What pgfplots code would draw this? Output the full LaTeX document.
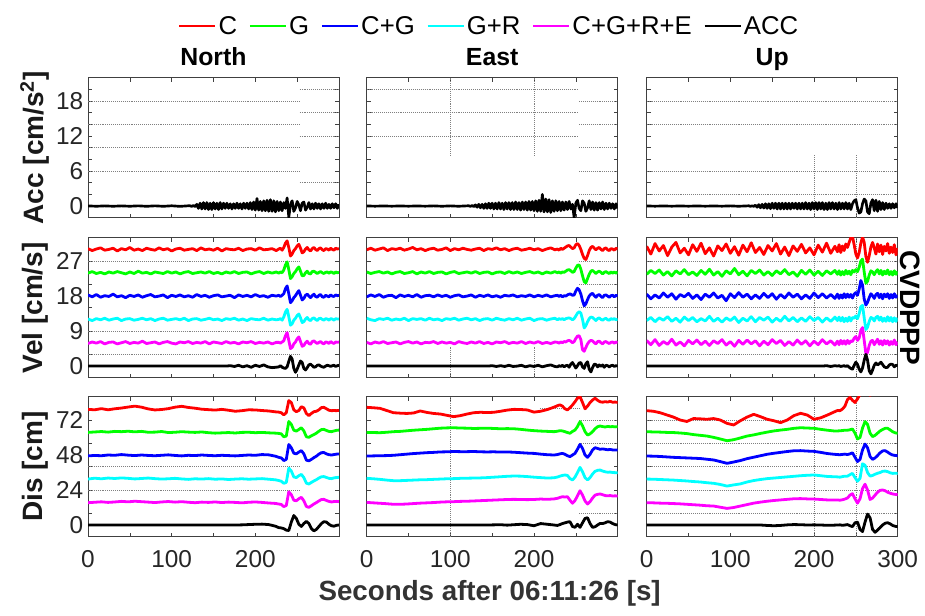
\documentclass[border=0pt]{standalone}
\usepackage{fontspec}
\setmainfont{Liberation Sans}
\usepackage{pgfplots}
\usepackage{pgfplotstable}
\pgfplotsset{compat=1.18}

\definecolor{cR}{rgb}{1,0,0}
\definecolor{cG}{rgb}{0,1,0}
\definecolor{cB}{rgb}{0,0,1}
\definecolor{cC}{rgb}{0,1,1}
\definecolor{cM}{rgb}{1,0,1}

\newcommand\tickfont{\fontsize{18.3}{20}\selectfont}
\newcommand\titlefont{\fontsize{18.6}{20}\selectfont\bfseries}
\newcommand\labfont{\fontsize{21}{23}\selectfont\bfseries}
\newcommand\xlabfont{\fontsize{20.8}{23}\selectfont\bfseries}
\newcommand\legfont{\fontsize{19.3}{21}\selectfont}

% acceleration (ACC only)
\pgfplotstableread{
t n e u
0 0.03 0.02 0.02
10 -0.03 -0.02 -0.02
20 0.03 0.02 0.02
30 -0.03 -0.02 -0.02
40 0.03 0.02 0.02
50 -0.03 -0.02 -0.02
60 0.04 0.02 0.02
70 -0.04 -0.02 -0.02
80 0.04 0.03 0.02
90 -0.04 -0.03 -0.02
100 0.05 0.03 0.03
110 -0.05 -0.03 -0.03
120 0.05 0.04 0.03
122 0.05 0.05 0.05
124 -0.05 -0.05 -0.05
126 0.1 0.1 0.05
128 -0.1 -0.1 -0.05
130 0.3 0.2 0.15
132 -0.4 -0.2 -0.2
134 0.5 0.3 0.25
136 -0.5 -0.3 -0.3
138 0.6 0.3 0.3
140 -0.5 -0.4 -0.35
142 0.6 0.4 0.4
144 -0.6 -0.4 -0.4
146 0.5 0.5 0.4
148 -0.6 -0.4 -0.45
150 0.6 0.5 0.5
152 -0.5 -0.5 -0.4
154 0.5 0.5 0.5
156 -0.6 -0.5 -0.5
158 0.6 0.6 0.5
160 -0.5 -0.5 -0.5
162 0.5 0.5 0.5
164 -0.4 -0.6 -0.5
166 0.5 0.6 0.5
168 -0.4 -0.5 -0.5
170 0.4 0.6 0.5
172 -0.5 -0.6 -0.5
174 0.4 0.6 0.5
176 -0.4 -0.6 -0.4
178 0.5 0.7 0.5
180 -0.4 -0.6 -0.5
182 0.4 0.6 0.5
184 -0.5 -0.7 -0.5
186 0.5 0.7 0.5
188 -0.4 -0.6 -0.5
190 0.5 0.7 0.6
192 -0.5 -0.7 -0.5
194 0.6 0.8 0.5
196 -0.6 -0.7 -0.6
198 0.7 0.8 0.6
200 -0.7 -0.8 -0.5
202 1.3 0.9 0.6
204 -0.7 -0.9 -0.6
206 0.8 1.0 0.6
208 -0.8 -0.9 -0.5
210 0.9 2.0 0.6
212 -0.8 -1.0 -0.6
214 1.0 1.2 0.5
216 -0.9 -1.0 -0.6
218 1.1 1.1 0.6
220 -0.9 -1.1 -0.5
222 0.9 0.9 0.6
224 -1.0 -0.9 -0.5
226 0.8 0.9 0.5
228 -0.8 -0.8 -0.6
230 0.7 0.8 0.6
232 -0.8 -0.8 -0.5
234 0.6 0.7 0.5
236 -0.4 -0.7 -0.5
238 1.4 0.7 0.6
240 -1.9 -0.6 -0.5
242 0.3 0.8 0.5
244 0.9 -0.5 -0.6
246 -0.9 0.3 0.4
248 -0.3 -2.0 0.9
250 0.8 0.5 1.1
252 0.2 1.0 -0.3
254 -0.8 -0.4 -1.2
256 0.5 -0.8 -1.0
258 0.7 0.9 0.4
260 -0.7 0.5 1.2
262 -0.2 -0.9 0.9
264 0.6 -0.3 -1.0
266 -0.5 0.9 -1.3
268 0.4 -0.6 0.5
270 -0.5 0.7 1.1
272 0.5 -0.7 -0.8
274 -0.4 0.6 1.0
276 0.4 -0.7 -0.9
278 -0.5 0.6 0.8
280 0.4 -0.5 -0.6
282 -0.4 0.7 0.6
284 0.5 -0.6 -0.6
286 -0.4 0.5 0.5
288 0.3 -0.5 -0.4
290 -0.4 0.5 0.4
292 0.4 -0.4 -0.4
294 -0.3 0.4 0.4
296 0.4 -0.5 -0.3
298 -0.4 0.4 0.4
300 0.3 -0.4 -0.3
}\acc

% velocity, North (deviation from each offset)
\pgfplotstableread{
t c g cg gr all acc
0 0.2 -0.1 0.3 0.1 -0.2 0
5 -0.3 0.3 -0.2 -0.3 0.2 0
10 0.1 -0.2 0.4 0.2 -0.1 0
15 0.4 0.1 -0.3 -0.1 0.3 0
20 -0.2 -0.3 0.1 0.3 -0.3 0
25 0.0 0.2 -0.1 -0.2 0.1 0
30 0.3 -0.1 0.5 0.1 0.2 0
35 -0.4 0.3 -0.2 0.3 -0.3 0
40 0.2 0.0 0.1 -0.3 0.0 0
45 -0.1 -0.3 -0.4 0.1 0.3 0
50 0.5 0.2 0.2 0.2 -0.2 0
55 -0.2 -0.2 -0.1 -0.2 0.1 0
60 0.1 0.4 0.3 0.0 -0.1 0
65 -0.3 -0.1 -0.3 0.3 0.4 0
70 0.3 0.1 0.1 -0.1 -0.2 0
75 0.0 -0.3 0.4 0.2 0.0 0
80 -0.2 0.2 -0.2 -0.3 0.2 0
85 0.4 0.0 0.0 0.1 -0.3 0
90 -0.1 -0.2 0.3 0.3 0.1 0
95 0.2 0.3 -0.4 -0.2 0.3 0
100 -0.4 -0.1 0.2 0.0 -0.1 0
105 0.1 0.2 -0.1 0.2 -0.3 0
110 0.3 -0.3 0.3 -0.1 0.2 0
115 -0.2 0.1 -0.2 0.3 0.0 0
120 0.0 0.3 0.1 -0.3 0.3 0
125 0.2 -0.2 -0.3 0.1 -0.2 0
130 -0.3 0.0 0.4 0.2 0.1 0
135 0.4 0.2 -0.1 -0.2 -0.1 0
140 -0.1 -0.1 0.2 0.0 0.3 0
145 0.1 0.3 -0.3 0.3 -0.3 0
150 -0.2 -0.2 0.1 -0.1 0.2 0
155 0.3 0.1 0.3 0.1 0.0 0
160 -0.4 -0.3 -0.2 -0.3 -0.2 0
165 0.2 0.2 0.0 0.2 0.3 0
170 0.0 -0.1 0.2 0.0 -0.1 0.1
175 -0.1 0.3 -0.4 0.3 0.1 -0.1
180 0.3 -0.2 0.3 -0.2 -0.3 0.2
185 -0.3 0.1 -0.1 0.1 0.2 -0.2
190 0.1 0.2 0.2 -0.3 0.0 0.1
195 0.2 -0.3 -0.2 0.2 0.3 -0.3
200 -0.2 0.1 0.4 0.0 -0.2 0.2
205 0.4 0.3 -0.1 -0.1 0.1 -0.1
210 -0.1 -0.2 0.1 0.3 -0.1 0.3
215 0.0 0.2 -0.3 -0.2 0.2 -0.2
220 0.2 -0.1 0.2 0.1 -0.3 -0.4
225 -0.3 0.2 0.0 -0.1 0.1 -0.3
228 0.1 -0.1 0.2 0.0 0.1 -0.2
230 0.3 0.2 -0.1 0.2 -0.1 0.1
232 -0.2 0.0 0.2 -0.2 0.2 -0.3
234 0.5 0.7 0.6 0.6 0.5 -0.5
236 1.6 2.0 1.9 1.9 1.8 -0.6
238 2.2 2.8 2.6 2.6 2.6 -0.2
240 0.5 0.8 0.6 0.7 0.6 1.2
242 -1.7 -1.5 -1.7 -1.5 -1.5 2.5
244 -1.2 -1.0 -1.2 -1.1 -1.2 1.8
246 -0.3 -0.2 -0.4 -0.2 -0.3 -0.6
248 0.2 0.3 0.1 0.3 0.2 -1.6
250 0.9 1.0 0.8 1.0 1.0 -0.8
252 1.3 1.5 1.4 1.4 1.5 0.3
254 0.3 0.4 0.2 0.4 0.3 1.3
256 -0.9 -0.8 -1.0 -0.8 -0.9 0.9
258 -0.6 -0.7 -0.6 -0.6 -0.7 -0.6
260 0.1 0.0 0.2 0.1 0.0 -1.0
262 0.5 0.4 0.5 0.5 0.4 -0.4
264 -0.1 -0.2 0.0 -0.1 -0.2 0.3
266 -0.4 -0.3 -0.4 -0.3 -0.4 0.5
268 0.2 0.3 0.1 0.2 0.3 0.1
270 0.5 0.4 0.5 0.4 0.5 -0.3
272 0.0 0.1 -0.1 0.0 0.1 -0.2
274 -0.3 -0.2 -0.3 -0.3 -0.2 0.2
276 0.2 0.1 0.2 0.2 0.1 0.3
278 0.4 0.3 0.4 0.3 0.3 0.0
280 -0.1 0.0 -0.2 0.0 -0.1 -0.2
282 -0.3 -0.2 -0.3 -0.2 -0.3 -0.3
284 0.2 0.1 0.2 0.2 0.2 0.0
286 0.1 0.2 0.0 0.1 0.1 0.2
288 -0.2 -0.1 -0.2 -0.2 -0.2 0.1
290 0.3 0.2 0.3 0.2 0.3 -0.1
292 0.0 0.1 0.0 0.1 0.0 0.1
294 -0.2 -0.2 -0.1 -0.2 -0.2 0.2
296 0.3 0.2 0.3 0.2 0.2 -0.1
298 0.1 0.0 0.1 0.1 0.1 0.1
300 0.2 0.1 0.2 0.1 0.2 0.2
}\velN

% velocity, East
\pgfplotstableread{
t c g cg gr all acc
0 -0.1 0.2 -0.2 0.3 0.1 0
5 0.3 -0.2 0.3 -0.1 -0.3 0
10 -0.2 0.1 -0.1 -0.3 0.2 0
15 0.1 0.3 0.4 0.2 -0.1 0
20 0.4 -0.1 -0.3 0.0 0.3 0
25 -0.3 0.2 0.1 0.3 -0.2 0
30 0.2 -0.3 0.2 -0.2 0.0 0
35 0.0 0.1 -0.4 0.1 0.2 0
40 0.3 0.3 0.3 -0.1 -0.3 0
45 -0.2 -0.2 -0.1 0.3 0.1 0
50 0.1 0.0 0.2 -0.3 0.3 0
55 0.5 0.3 -0.2 0.2 -0.1 0
60 -0.1 -0.3 0.4 0.0 0.2 0
65 0.2 0.2 -0.3 0.2 -0.3 0
70 -0.3 -0.1 0.1 -0.2 0.1 0
75 0.1 0.3 0.2 0.3 0.0 0
80 0.3 -0.2 -0.2 -0.1 0.3 0
85 -0.2 0.1 0.3 0.1 -0.2 0
90 0.0 0.2 -0.1 -0.3 0.2 0
95 0.4 -0.3 0.2 0.2 -0.1 0
100 -0.3 0.1 -0.3 0.0 0.1 0
105 0.2 0.3 0.1 0.3 -0.3 0
110 -0.1 -0.2 0.3 -0.2 0.3 0
115 0.3 0.0 -0.2 0.1 0.0 0
120 0.0 0.2 0.0 0.3 -0.2 0
125 -0.2 -0.1 0.3 -0.1 0.2 0
130 0.1 0.3 -0.3 0.2 -0.1 0
135 0.3 -0.2 0.2 -0.3 0.3 0
140 -0.3 0.1 -0.1 0.1 -0.2 0
145 0.2 0.2 0.3 0.2 0.1 0
150 0.0 -0.3 -0.2 -0.2 -0.3 0.1
155 0.4 0.1 0.1 0.3 0.2 -0.1
160 -0.1 0.2 -0.3 0.0 0.0 0.1
165 0.2 -0.2 0.2 -0.2 0.3 -0.1
170 -0.3 0.3 0.0 0.2 -0.2 0.2
175 0.1 -0.1 0.3 -0.1 0.1 -0.1
180 0.3 0.2 -0.2 0.3 -0.1 0.0
185 -0.2 -0.2 0.1 -0.2 0.3 0.2
190 0.0 0.1 -0.1 0.1 -0.2 -0.2
195 0.3 0.3 0.3 0.3 0.2 0.1
200 -0.1 -0.1 -0.2 -0.3 -0.1 -0.1
205 0.2 0.2 0.2 0.1 0.3 0.2
210 -0.3 -0.3 -0.1 0.2 -0.2 -0.2
215 0.1 0.2 0.3 -0.2 0.1 0.1
220 0.4 -0.1 -0.2 0.1 -0.2 0.3
225 -0.1 0.3 0.1 0.3 0.2 -0.1
228 0.1 0.0 0.2 -0.1 0.1 -0.2
230 -0.2 0.2 -0.1 0.2 -0.1 0.1
232 0.3 -0.1 0.2 0.0 0.2 -0.1
234 0.0 0.2 -0.2 0.2 0.0 0.2
236 0.3 0.1 0.1 -0.1 0.3 -0.2
238 0.6 0.4 0.0 0.2 0.2 0.1
240 0.9 0.7 0.3 0.3 0.5 0.2
242 1.0 0.8 0.5 0.4 0.6 -0.3
244 0.6 0.5 0.5 0.2 0.4 0.5
246 0.2 0.1 0.2 -0.1 0.0 0.9
248 0.4 0.3 0.3 0.2 0.3 0.2
250 1.2 1.2 1.3 0.9 1.1 -0.5
252 1.5 1.9 2.0 1.6 1.7 0.1
254 1.0 2.0 1.6 2.0 1.8 0.8
256 0.0 0.9 0.5 1.6 0.8 0.9
258 -1.3 -0.8 -1.2 0.0 -1.8 -0.2
260 -2.3 -2.3 -2.5 -2.2 -2.2 -0.6
262 -2.6 -2.6 -2.0 -1.6 -1.2 0.6
264 -1.6 -1.5 -0.9 -0.6 -0.3 1.1
266 -0.3 -0.4 0.0 0.2 0.3 -0.8
268 0.5 0.4 0.5 0.6 0.6 -1.5
270 0.8 0.6 0.7 0.5 0.5 -0.4
272 0.3 0.2 0.1 0.1 0.0 0.5
274 -0.1 -0.2 -0.3 -0.3 -0.3 0.4
276 0.3 0.2 0.2 0.2 0.3 -0.2
278 0.5 0.4 0.4 0.4 0.4 0.3
280 0.0 0.1 -0.1 0.0 0.0 -0.1
282 -0.3 -0.3 -0.4 -0.2 -0.3 0.3
284 0.2 0.1 0.2 0.1 0.2 -0.3
286 0.4 0.3 0.3 0.3 0.3 0.2
288 -0.1 0.0 0.0 -0.1 0.0 0.1
290 -0.3 -0.2 -0.3 -0.2 -0.2 -0.2
292 0.2 0.2 0.1 0.2 0.1 0.1
294 0.1 -0.1 0.2 0.0 0.2 0.2
296 -0.2 0.2 -0.2 0.2 -0.1 -0.1
298 0.3 -0.1 0.2 -0.1 0.2 0.1
300 0.1 0.2 0.0 0.1 0.0 0.0
}\velE

% velocity, Up
\pgfplotstableread{
t c g cg gr all acc
0 0.8 -0.4 0.5 -0.3 0.6 0
5 -1.2 0.6 -0.7 0.5 -0.5 0
10 1.5 -0.2 0.3 -0.6 0.8 0
15 -0.4 0.7 -0.5 0.4 -0.7 0
20 1.0 -0.6 0.8 -0.2 0.3 0
25 -1.6 0.3 -0.3 0.7 -0.4 0
30 0.6 -0.8 0.6 -0.5 0.9 0
35 1.8 0.5 -0.8 0.3 -0.6 0
40 -0.9 -0.3 0.4 -0.7 0.2 0
45 0.3 0.8 -0.2 0.6 -0.8 0
50 -1.4 -0.5 0.7 -0.3 0.6 0
55 1.2 0.2 -0.6 0.5 -0.3 0
60 -0.5 -0.7 0.3 -0.6 0.7 0
65 1.6 0.6 -0.9 0.2 -0.5 0
70 -1.1 -0.4 0.5 -0.4 0.4 0
75 0.4 0.9 -0.3 0.8 -0.7 0
80 -1.7 -0.6 0.8 -0.5 0.5 0
85 0.9 0.3 -0.5 0.3 -0.2 0
90 -0.3 -0.9 0.2 -0.7 0.8 0
95 1.4 0.5 -1.2 0.4 -0.6 0
100 -1.0 -0.3 0.6 -0.3 0.3 0
105 0.7 1.1 -0.4 0.6 -0.9 0
110 -1.5 -0.5 0.9 -0.8 0.6 0
115 1.1 0.4 -0.3 0.3 -0.4 0
120 -0.6 -0.8 0.5 -0.4 0.7 0
125 1.7 0.6 -0.7 0.7 -0.3 0
130 -0.8 -0.2 0.3 -0.6 0.5 0
135 0.5 0.7 -0.6 0.5 -0.8 0
140 -1.3 -0.6 0.7 -0.2 0.4 0
145 1.0 0.3 -0.4 0.6 -0.5 0
150 -0.4 -0.7 0.6 -0.7 0.8 0
155 1.5 0.5 -0.8 0.3 -0.2 0
160 -1.2 -0.3 0.4 -0.5 0.6 0
165 0.6 0.8 -0.5 0.8 -0.7 0
170 -1.6 -0.5 0.8 -0.4 0.3 0
175 0.9 0.2 -0.3 0.5 -0.6 0
180 -0.5 -0.9 0.5 -0.6 0.7 0
185 1.3 0.6 -0.7 0.4 -0.4 0
190 -0.9 -0.4 0.3 -0.5 0.5 0
195 0.4 0.7 -0.6 0.7 -0.8 0
200 -1.4 -0.6 0.8 -0.3 0.4 0
205 1.1 0.4 -0.4 0.5 -0.5 0
210 -0.7 -0.7 0.6 -0.7 0.8 0
215 1.6 0.5 -0.5 0.4 -0.3 0.1
220 -1.0 -0.3 0.4 -0.5 0.5 -0.1
225 0.8 0.6 -0.6 0.6 -0.6 0.1
228 -0.6 -0.4 0.5 -0.3 0.4 0.0
230 1.2 0.5 -0.6 0.6 -0.5 0.1
232 -0.8 -0.6 0.3 -0.4 0.6 -0.1
234 0.9 0.3 -0.5 0.5 -0.3 0.0
236 -0.3 -0.5 0.6 -0.6 0.5 0.1
238 1.4 0.6 -0.4 0.3 -0.4 -0.1
240 0.5 -0.3 0.5 -0.5 0.6 0.1
242 1.8 0.4 -0.3 0.6 -0.2 -0.3
244 3.0 -0.5 0.4 -0.4 0.5 -0.6
246 3.3 0.6 -0.5 0.5 0.3 -0.8
248 1.2 0.2 0.5 0.3 1.2 0.2
250 -1.2 0.8 0.9 0.9 1.6 1.0
252 -2.2 0.3 0.2 0.2 0.6 0.4
254 -0.8 1.4 1.8 1.5 1.2 -0.8
256 1.6 3.0 4.0 3.3 3.2 -1.5
258 3.2 3.5 2.8 3.6 3.9 -0.5
260 1.8 0.2 -0.8 0.4 0.6 1.5
262 -1.8 -2.7 -2.3 -2.6 -2.8 3.0
264 -3.3 -2.2 -1.6 -2.0 -2.5 1.5
266 -1.6 -0.6 -0.4 -0.5 -0.7 -1.2
268 0.6 0.5 0.6 0.5 0.4 -2.0
270 1.8 0.2 0.1 0.3 0.6 -1.0
272 0.4 -0.5 -0.6 -0.4 -0.5 0.2
274 -1.2 0.3 0.4 0.5 0.2 0.8
276 1.4 0.8 0.7 0.8 0.9 0.3
278 -0.6 -0.3 -0.4 -0.2 -0.4 0.6
280 1.1 0.6 0.5 0.6 0.5 1.0
282 -1.3 -0.6 -0.7 -0.5 -0.6 0.4
284 0.8 0.4 0.5 0.3 0.6 -0.2
286 -0.4 -0.3 -0.2 -0.5 -0.3 -0.4
288 1.5 0.7 0.6 0.7 0.5 -0.3
290 -1.0 -0.5 -0.6 -0.4 -0.6 0.3
292 0.6 0.3 0.4 0.5 0.3 0.5
294 -0.8 -0.6 -0.5 -0.6 -0.4 0.4
296 1.2 0.5 0.6 0.4 0.7 -0.2
298 -1.4 -0.4 -0.3 -0.5 -0.5 0.2
300 0.3 0.3 0.2 0.4 0.2 0.1
}\velU

% displacement, North
\pgfplotstableread{
t c g cg gr all acc
0 -0.7 -0.5 -0.6 -0.5 -0.7 0
8 -1.0 -0.2 -0.3 0.1 -0.4 0
16 -0.2 0.1 -0.5 -0.3 -0.1 0
24 -1.0 -0.3 0.0 0.2 -0.5 0
32 -0.3 0.2 -0.2 -0.1 -0.2 0
40 0.2 0.0 0.3 0.3 0.2 0
48 0.9 0.3 -0.1 0.0 -0.1 0
56 1.5 -0.1 -0.4 -0.4 0.3 0
64 0.8 0.2 0.0 -0.1 0.0 0
72 -0.4 -0.4 -0.3 0.2 -0.3 0
80 -1.1 -0.3 -0.5 -0.2 -0.6 0
88 -0.8 0.1 -0.2 -0.5 -0.2 0
96 -0.2 -0.6 0.1 -0.3 0.1 0
104 0.8 -0.4 -0.3 0.0 -0.3 0
112 1.4 0.0 -0.6 -0.4 0.0 0
120 0.6 -0.3 -0.2 -0.7 -0.4 0
128 0.1 -0.5 -0.4 -0.3 -0.7 0
136 -0.6 -0.2 0.0 -0.5 -0.3 0
144 -0.9 -0.7 -0.3 -0.2 -0.5 0
152 -1.2 -1.0 -0.5 -0.6 -0.2 0
160 -0.7 -0.8 -0.2 -0.4 -0.6 0
168 -1.3 -0.6 -0.4 -0.8 -0.3 0
176 -2.0 -0.9 -0.6 -0.5 -0.5 0
184 -1.6 -0.5 -0.3 -0.3 -0.8 0.1
192 -1.0 -0.4 0.0 -0.6 -0.4 0.3
200 -1.1 -0.7 -0.2 -0.4 -0.2 0.5
208 -1.5 -0.5 0.3 -0.2 -0.5 0.6
216 -1.8 -0.8 0.1 -0.6 -0.9 0.3
224 -2.4 -1.0 -0.8 -1.0 -1.2 -0.8
228 -2.6 -1.2 -1.6 -1.5 -1.6 -1.8
231 -3.0 -1.5 -2.0 -2.0 -1.9 -2.0
234 -4.5 -3.5 -3.8 -3.4 -3.4 -2.5
237 -3.0 -3.0 -3.0 -2.8 -2.6 -3.5
240 5.3 7.0 7.2 7.0 6.8 -3.8
243 4.0 5.0 5.0 5.0 4.8 2.0
246 -1.0 1.0 1.2 1.0 1.0 6.5
249 -2.3 0.4 0.8 0.5 0.6 4.5
252 -1.5 1.5 2.0 1.8 2.0 0.5
255 1.1 2.7 3.0 2.7 3.0 -1.0
258 0.3 0.5 0.8 0.5 0.6 1.0
261 -3.5 -3.5 -3.5 -3.3 -3.3 2.5
264 -5.0 -3.9 -4.0 -3.9 -3.9 1.0
267 -3.5 -2.8 -3.0 -2.8 -2.8 -2.5
270 -2.3 -2.0 -1.8 -1.8 -1.6 -4.0
273 -2.0 -1.0 -0.8 -0.9 -0.6 -3.0
276 -1.0 0.3 0.6 0.2 0.5 -1.0
279 0.5 1.4 1.6 1.1 1.5 1.0
282 0.7 1.6 1.7 1.2 1.6 2.3
285 -0.3 0.8 0.8 0.6 0.8 2.0
288 -1.3 0.2 0.2 0.0 0.2 0.5
291 -1.6 0.0 0.0 -0.2 -0.2 -0.5
294 -1.5 0.5 0.3 0.3 0.1 -0.8
297 -1.6 0.9 0.6 0.6 0.2 -0.2
300 -1.4 1.1 0.7 0.7 0.0 0.0
}\disN

% displacement, East
\pgfplotstableread{
t c g cg gr all acc
0 0.7 -0.5 -0.7 0.0 -0.5 0
8 0.4 -0.6 -0.6 -0.3 -0.8 0
16 0.0 -0.7 -0.5 -0.7 -1.1 0
24 -1.5 -0.4 -0.4 -1.2 -1.4 0
32 -3.0 0.0 -0.2 -1.6 -1.8 0
40 -3.3 0.2 0.2 -1.6 -1.8 0
48 -3.5 0.6 0.6 -1.4 -1.6 0
56 -3.2 1.0 1.0 -1.2 -1.3 0
64 -1.8 1.3 1.3 -1.0 -1.0 0
72 -2.8 1.6 1.6 -0.9 -0.8 0
80 -3.5 2.0 1.8 -0.7 -0.6 0
88 -3.9 2.4 2.1 -0.5 -0.3 0
96 -4.8 2.6 2.2 -0.3 -0.1 0
104 -5.7 2.7 2.4 -0.2 0.0 0
112 -5.0 2.5 2.3 0.0 0.2 0
120 -3.9 2.4 2.3 0.1 0.3 0
128 -3.0 2.2 2.4 0.2 0.5 0
136 -2.7 2.3 2.2 0.3 0.7 0
144 -2.9 2.4 2.1 0.5 0.9 0
152 -2.7 2.2 2.2 0.8 1.1 0.1
160 -2.0 2.0 2.0 1.1 1.3 0.2
168 -1.2 2.1 2.1 1.4 1.5 -0.1
176 -0.7 2.0 1.9 1.6 1.6 0.2
184 -0.8 1.6 1.6 1.5 1.5 0.5
192 -1.1 1.1 1.3 1.2 1.4 0.3
200 -2.6 0.7 1.1 0.8 1.5 -0.5
208 -2.0 0.4 0.6 0.5 1.8 1.0
216 -0.8 0.2 0.2 0.2 1.6 0.5
224 0.8 0.0 0.0 0.4 1.9 0.0
228 1.8 0.3 0.3 0.9 2.3 -0.3
231 2.4 0.7 0.8 1.5 2.9 0.3
234 1.5 0.5 1.1 2.0 3.4 1.0
237 -0.3 0.0 0.5 2.3 3.2 1.5
240 -1.1 -0.6 -0.5 2.0 3.4 2.0
243 0.5 -1.1 -1.1 -0.2 1.0 2.3
246 2.3 0.2 0.0 -1.1 -1.1 -1.0
249 4.5 1.1 1.1 0.8 0.8 -1.6
252 7.0 3.5 4.0 4.0 4.0 0.5
255 8.0 6.9 7.3 7.5 7.5 -1.6
258 4.0 4.0 4.5 4.5 4.5 1.5
261 -0.3 0.0 0.0 0.5 0.5 4.5
264 1.5 -2.3 -1.6 -1.1 -1.6 5.0
267 4.0 -1.5 0.5 0.5 0.0 1.0
270 5.7 0.0 3.5 3.0 2.5 -1.6
273 6.9 2.0 5.0 4.8 4.5 -1.2
276 5.5 3.4 4.5 5.5 5.0 0.0
279 4.5 3.9 3.9 5.7 5.3 1.1
282 4.2 3.5 4.2 5.0 4.8 1.0
285 4.6 3.2 3.9 4.5 4.2 1.5
288 4.3 3.6 3.6 4.2 4.0 2.3
291 4.8 3.4 3.8 4.3 4.2 2.0
294 4.2 3.5 3.5 4.0 3.9 1.0
297 4.3 3.3 3.4 3.9 4.0 0.3
300 4.1 3.4 3.4 3.9 3.9 0.0
}\disE

% displacement, Up
\pgfplotstableread{
t c g cg gr all acc
0 -1.6 0.0 -0.7 -0.5 -0.7 0
8 -2.0 -0.2 -0.8 -0.6 -0.8 0
16 -3.0 -0.3 -1.0 -0.8 -1.0 0
24 -4.5 -0.5 -1.3 -1.0 -1.1 0
32 -6.0 -0.6 -1.6 -1.2 -1.3 0
40 -8.0 -0.9 -1.8 -1.5 -1.5 0
48 -9.0 -1.3 -2.0 -1.8 -1.8 0
56 -7.0 -2.0 -2.2 -2.2 -2.1 0
64 -7.2 -2.5 -2.4 -2.5 -2.4 0
72 -7.5 -3.0 -2.9 -3.0 -2.8 0
80 -7.0 -3.9 -3.4 -3.4 -3.0 0
88 -8.0 -5.0 -4.5 -4.2 -3.8 0
96 -10.3 -6.2 -5.7 -5.3 -4.6 0
104 -11.4 -5.5 -4.8 -4.5 -4.0 0
112 -8.5 -4.3 -3.8 -3.8 -3.0 0
120 -6.0 -3.0 -2.5 -2.5 -2.0 0
128 -4.1 -2.2 -1.5 -1.5 -1.0 0
136 -5.7 -1.2 -0.5 -0.8 -0.3 0
144 -7.5 -0.3 0.5 -0.2 0.3 -0.3
152 -8.5 0.5 1.2 0.2 0.8 -0.5
160 -9.8 1.1 1.8 0.6 1.2 -0.3
168 -8.0 1.6 2.4 1.0 1.6 0.1
176 -5.0 2.3 2.9 1.4 2.0 0.3
184 -3.4 2.7 3.0 1.8 2.1 0.2
192 -4.6 2.5 2.7 2.1 1.9 0.0
200 -7.5 2.3 2.5 2.3 1.8 0.1
208 -6.5 1.6 1.8 1.8 1.5 0.0
216 -4.6 1.0 1.0 1.3 1.2 -0.2
224 -2.5 0.5 0.5 1.1 1.1 -0.1
228 -1.5 0.5 0.3 1.0 1.2 0.0
231 -1.6 0.6 0.2 0.8 1.0 0.1
234 -0.5 0.8 0.4 1.2 1.3 -0.2
237 1.5 1.0 0.6 1.5 1.8 0.0
240 6.0 1.0 0.3 1.5 2.5 0.3
243 7.5 1.3 0.8 2.5 4.5 -0.5
246 5.5 1.8 1.5 3.4 5.5 -1.1
249 4.0 -1.0 -1.5 0.5 2.0 1.5
252 6.5 -5.0 -4.5 -2.0 -1.0 2.0
255 9.5 -4.0 -3.0 0.0 2.0 -3.0
258 12.0 2.5 3.5 10.0 9.0 -4.5
261 13.0 6.9 7.5 9.0 12.0 2.0
264 11.0 5.0 5.0 4.0 8.0 7.5
267 9.0 -1.0 -1.0 1.5 1.5 5.0
270 10.5 -3.4 -3.0 2.0 2.5 -3.0
273 13.0 -2.5 -2.0 2.8 4.5 -5.0
276 15.0 -1.0 -0.3 3.5 6.5 -3.5
279 16.0 0.5 1.5 4.0 7.8 -1.8
282 16.0 1.5 2.8 4.8 8.0 0.0
285 15.0 2.3 3.0 5.0 7.5 1.2
288 14.5 2.3 2.0 4.6 6.5 1.6
291 15.0 1.2 0.8 3.8 5.8 0.8
294 15.5 0.0 0.0 3.4 5.3 -0.3
297 15.0 -0.8 -0.3 3.5 5.0 -0.9
300 14.5 -1.1 -0.5 3.4 4.8 -1.1
}\disU

\pgfplotsset{
  panel/.style={
    scale only axis, width=188.25pt, height=105pt,
    xmin=0, xmax=300, xtick={0,50,...,300}, xticklabels={},
    tick align=inside, major tick length=3pt,
    axis line style={black!75, line width=0.5pt},
    every tick/.style={black!75, line width=0.5pt},
    tick label style={font=\tickfont, text=black!85},
    xticklabel style={yshift=-6.5pt},
    every axis y label/.style={at={(axis description cs:-0.211,0.5)}, rotate=90, anchor=center, font=\labfont, text=black!90},
    title style={at={(0.5,1)}, anchor=base, yshift=3.5pt, font=\titlefont},
    clip mode=individual,
  },
  accp/.style={panel, ymin=-2, ymax=22, ytick={0,2,...,22}, yticklabels={}},
  velp/.style={panel, ymin=-3, ymax=33, ytick={-3,3,...,33}, yticklabels={}},
  disp/.style={panel, ymin=-8, ymax=88, ytick={-8,8,...,88}, yticklabels={}},
  lab/.style={extra y ticks={#1}, extra y tick labels={#1}, extra y tick style={major tick length=0pt}},
  art/.style={black!50, line width=0.45pt, densely dotted, forget plot},
  ser/.style={line width=2.1pt, no markers, line join=round},
  accl/.style={black, line width=2pt, no markers, line join=round},
}

\newcommand\hl[3]{\addplot[art] coordinates {(#2,#1) (#3,#1)};}
\newcommand\vl[3]{\addplot[art] coordinates {(#1,#2) (#1,#3)};}
\newcommand\six[2]{%
  \addplot[ser,cR] table[x=t,y expr=\thisrow{c}+5*#2]{#1};
  \addplot[ser,cG] table[x=t,y expr=\thisrow{g}+4*#2]{#1};
  \addplot[ser,cB] table[x=t,y expr=\thisrow{cg}+3*#2]{#1};
  \addplot[ser,cC] table[x=t,y expr=\thisrow{gr}+2*#2]{#1};
  \addplot[ser,cM] table[x=t,y expr=\thisrow{all}+#2]{#1};
  \addplot[ser,black] table[x=t,y=acc]{#1};
}

\begin{document}
\begin{tikzpicture}
\path[use as bounding box] (0,0) rectangle (693.75pt,-461.25pt);

% ---- acceleration row
\begin{axis}[accp, at={(66pt,-163.3pt)}, title={North}, ylabel={Acc [cm/s\textsuperscript{2}]}, lab={0,6,12,18}]
\hl{18}{0}{253}\hl{14}{0}{253}\hl{10}{0}{253}\hl{6}{0}{253}
\hl{20}{253}{300}\hl{16}{253}{300}\hl{12}{253}{300}\hl{4}{253}{300}
\addplot[accl] table[x=t,y=n]{\acc};
\end{axis}
\begin{axis}[accp, at={(275pt,-163.3pt)}, title={East}]
\hl{20}{0}{254}\hl{16}{0}{254}\hl{12}{0}{254}
\hl{18}{254}{300}\hl{14}{254}{300}\hl{10}{254}{300}\hl{6}{254}{300}\hl{2}{254}{300}
\vl{100}{8.7}{22}\vl{200}{8.7}{22}
\addplot[accl] table[x=t,y=e]{\acc};
\end{axis}
\begin{axis}[accp, at={(485pt,-163.3pt)}, title={Up}]
\hl{18}{0}{300}\hl{14}{0}{300}\hl{6}{0}{300}\hl{2}{0}{300}
\vl{200}{-2}{8.7}\vl{250}{-2}{8.7}
\addplot[accl] table[x=t,y=u]{\acc};
\end{axis}

% ---- velocity row
\begin{axis}[velp, at={(66pt,-283.3pt)}, ylabel={Vel [cm/s]}, lab={0,9,18,27},
  legend columns=6,
  legend style={at={(1.598,2.512)}, anchor=center, draw=none, fill=none, font=\legfont,
    nodes={inner sep=1.5pt}, /tikz/every even column/.append style={column sep=7pt}},
  legend image code/.code={\draw[#1, line width=2pt] (0pt,0pt) -- (27pt,0pt);}]
\hl{27}{0}{253}\hl{9}{0}{253}\hl{3}{0}{253}
\six{\velN}{6}
\legend{C,G,C+G,G+R,C+G+R+E,ACC}
\end{axis}
\begin{axis}[velp, at={(275pt,-283.3pt)}]
\hl{27}{254}{300}\hl{21}{254}{300}\hl{15}{254}{300}
\vl{100}{-3}{5}\vl{200}{-3}{5}
\six{\velE}{6}
\end{axis}
\begin{axis}[velp, at={(485pt,-283.3pt)}]
\hl{27}{0}{300}\hl{21}{0}{300}\hl{15}{0}{300}\hl{9}{0}{300}\hl{3}{0}{300}
\vl{200}{7}{33}\vl{250}{-3}{33}
\six{\velU}{6}
\node[rotate=-90, font=\labfont, anchor=center] at (axis description cs:1.051,0.5) {CVDPPP};
\end{axis}

% ---- displacement row
\begin{axis}[disp, at={(66pt,-402.5pt)}, ylabel={Dis [cm]}, lab={0,24,48,72},
  xticklabels={0,,100,,200,,}]
\hl{40}{0}{253}\hl{24}{0}{253}
\six{\disN}{16}
\end{axis}
\begin{axis}[disp, at={(275pt,-402.5pt)}, xticklabels={0,,100,,200,,},
  xlabel={Seconds after 06:11:26 [s]},
  every axis x label/.style={at={(axis description cs:0.49,-0.402)}, anchor=center, font=\xlabfont, text=black!80}]
\vl{100}{-8}{88}\hl{80}{207}{254}\hl{72}{254}{300}\hl{56}{254}{300}\hl{8}{254}{300}
\six{\disE}{16}
\end{axis}
\begin{axis}[disp, at={(485pt,-402.5pt)}, xticklabels={0,,100,,200,,300}]
\hl{72}{0}{300}\hl{56}{0}{300}\hl{40}{0}{300}\hl{24}{0}{300}\hl{8}{0}{300}
\vl{200}{-8}{88}\vl{250}{-8}{88}
\six{\disU}{16}
\end{axis}
\end{tikzpicture}
\end{document}
